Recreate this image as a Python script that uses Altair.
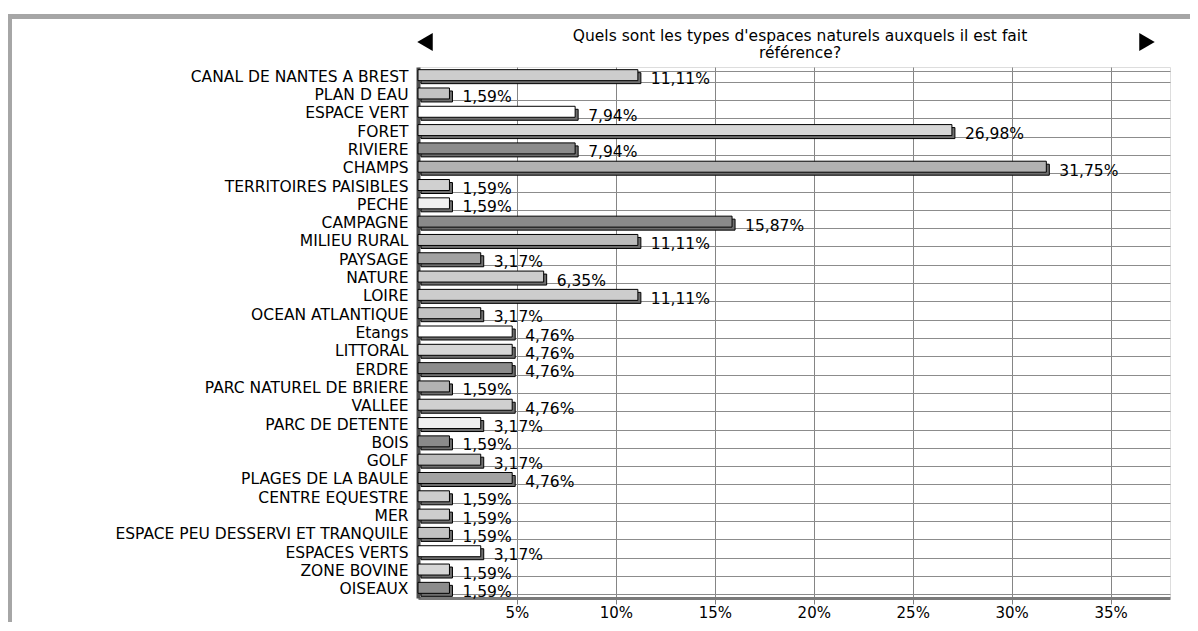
import altair as alt
import pandas as pd

categories = [
    "CANAL DE NANTES A BREST", "PLAN D EAU", "ESPACE VERT", "FORET", "RIVIERE",
    "CHAMPS", "TERRITOIRES PAISIBLES", "PECHE", "CAMPAGNE", "MILIEU RURAL",
    "PAYSAGE", "NATURE", "LOIRE", "OCEAN ATLANTIQUE", "Etangs", "LITTORAL",
    "ERDRE", "PARC NATUREL DE BRIERE", "VALLEE", "PARC DE DETENTE", "BOIS",
    "GOLF", "PLAGES DE LA BAULE", "CENTRE EQUESTRE", "MER",
    "ESPACE PEU DESSERVI ET TRANQUILE", "ESPACES VERTS", "ZONE BOVINE", "OISEAUX",
]
values = [
    11.11, 1.59, 7.94, 26.98, 7.94,
    31.75, 1.59, 1.59, 15.87, 11.11,
    3.17, 6.35, 11.11, 3.17, 4.76, 4.76,
    4.76, 1.59, 4.76, 3.17, 1.59,
    3.17, 4.76, 1.59, 1.59,
    1.59, 3.17, 1.59, 1.59,
]
x_ticks = [5, 10, 15, 20, 25, 30, 35]
title_lines = ["Quels sont les types d'espaces naturels auxquels il est fait", "référence?"]

# pattern tones (approximating the hatched fills, cycling every 12 bars)
pattern_tones = ["#cdcdcd", "#c2c2c2", "#ffffff", "#d6d6d6", "#8c8c8c", "#b2b2b2",
                 "#d0d0d0", "#f0f0f0", "#8a8a8a", "#bbbbbb", "#a2a2a2", "#cdcdcd"]

df = pd.DataFrame({"cat": categories, "val": values})
df["pat"] = [i % 12 for i in range(len(df))]

FONT = "DejaVu Sans"

y_enc = alt.Y(
    "cat:N", sort=categories,
    scale=alt.Scale(paddingInner=0.4, paddingOuter=0.2),
    axis=alt.Axis(title=None, ticks=False, domain=True, domainColor="#4d4d4d",
                  domainWidth=4, labelFont=FONT, labelFontSize=15.5, labelColor="black",
                  labelPadding=10, labelLimit=500, grid=True, gridColor="#8c8c8c",
                  gridWidth=1, tickBand="extent"),
)
x_enc = alt.X(
    "val:Q",
    scale=alt.Scale(domain=[0, 38], nice=False, zero=True),
    axis=alt.Axis(title=None, values=x_ticks, labelExpr="datum.value + '%'",
                  labelFont=FONT, labelFontSize=15, labelColor="black",
                  grid=True, gridColor="#858585", gridWidth=1,
                  ticks=True, tickSize=6, tickColor="#808080", tickWidth=1,
                  domain=True, domainColor="#7a7a7a", domainWidth=3,
                  labelPadding=1),
)

base = alt.Chart(df)

shadow = base.mark_bar(
    fill="#6e6e6e", stroke="black", strokeWidth=1,
    xOffset=3, x2Offset=3, yOffset=2, y2Offset=2,
).encode(y=y_enc, x=x_enc)

front = base.mark_bar(
    stroke="black", strokeWidth=1, yOffset=-1, y2Offset=-1,
).encode(
    y=y_enc, x=x_enc,
    color=alt.Color("pat:N", scale=alt.Scale(domain=list(range(12)), range=pattern_tones),
                    legend=None),
)

labels = base.transform_calculate(
    label="replace(format(datum.val, '.2f'), '.', ',') + '%'"
).mark_text(
    align="left", baseline="middle", dx=13, dy=3, font=FONT, fontSize=15.5, color="black",
).encode(y=y_enc, x=x_enc, text="label:N")

dummy = alt.Chart(pd.DataFrame({"a": [0]}))

title = dummy.mark_text(
    align="center", baseline="middle", font=FONT, fontSize=15.5, color="black", lineHeight=17,
).encode(x=alt.value(382), y=alt.value(-31), text=alt.value(title_lines))

left_arrow = dummy.mark_point(
    shape="triangle-left", filled=True, color="black", opacity=1, size=320,
).encode(x=alt.value(7), y=alt.value(-25))
right_arrow = dummy.mark_point(
    shape="triangle-right", filled=True, color="black", opacity=1, size=320,
).encode(x=alt.value(729), y=alt.value(-25))

frame = dummy.mark_rect(
    fillOpacity=0, stroke="#a6a6a6", strokeWidth=5,
).encode(x=alt.value(-408.5), x2=alt.value(900), y=alt.value(-50.5), y2=alt.value(700))

chart = alt.layer(
    frame, shadow, front, labels, title, left_arrow, right_arrow
).properties(
    width=752, height=531,
    autosize=alt.AutoSizeParams(type="none"),
    padding={"left": 410, "top": 59, "right": 20, "bottom": 24},
).configure_view(
    stroke="#8c8c8c", strokeWidth=2,
).configure(background="white")

chart.save("out.html", embed_options={"renderer": "svg", "actions": False})
